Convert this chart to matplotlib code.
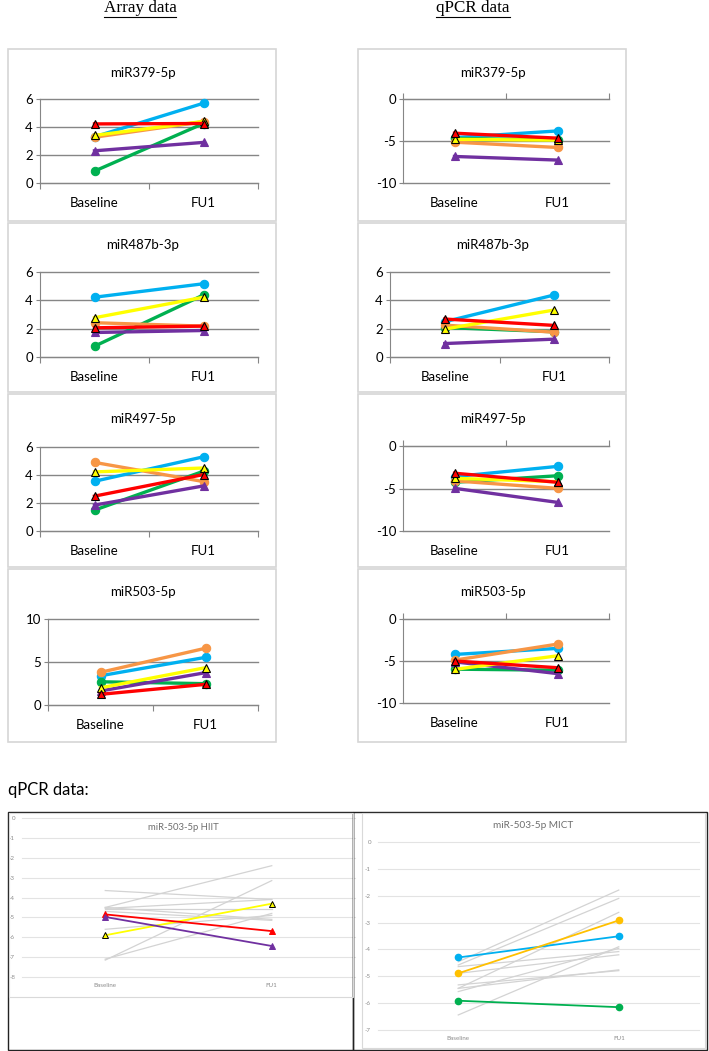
import numpy as np
import matplotlib
matplotlib.use("Agg")
import matplotlib.pyplot as plt
from matplotlib.patches import Rectangle
from matplotlib.lines import Line2D

plt.rcParams['axes.unicode_minus'] = False

W, H = 709, 1051

categories = ['Baseline', 'FU1']

# series order: blue, green, orange, purple, yellow, red
colors = ['#00B0F0', '#00B050', '#F79646', '#7030A0', '#FFFF00', '#FF0000']
markers = ['o', 'o', 'o', '^', '^', '^']
edges = ['#00B0F0', '#00B050', '#F79646', '#7030A0', 'black', 'black']

# Array data
arr379_base = [3.3, 0.85, 3.27, 2.3, 3.4, 4.22]
arr379_fu1 = [5.7, 4.25, 4.38, 2.9, 4.4, 4.25]
arr487_base = [4.22, 0.76, 2.42, 1.73, 2.77, 2.06]
arr487_fu1 = [5.17, 4.38, 2.18, 1.87, 4.22, 2.18]
arr497_base = [3.55, 1.49, 4.9, 1.85, 4.22, 2.49]
arr497_fu1 = [5.3, 4.27, 3.53, 3.22, 4.5, 4.03]
arr503_base = [3.4, 2.7, 3.8, 1.63, 2.0, 1.24]
arr503_fu1 = [5.54, 2.48, 6.6, 3.76, 4.34, 2.4]

# qPCR data
q379_base = [-4.6, -4.7, -5.14, -6.84, -4.8, -4.07]
q379_fu1 = [-3.8, -4.85, -5.77, -7.27, -4.9, -4.66]
q487_base = [2.49, 2.08, 2.25, 0.95, 1.97, 2.68]
q487_fu1 = [4.38, 1.78, 1.75, 1.26, 3.32, 2.23]
q497_base = [-3.6, -4.27, -4.1, -4.98, -3.8, -3.2]
q497_fu1 = [-2.4, -3.5, -4.98, -6.63, -4.2, -4.27]
q503_base = [-4.22, -5.97, -4.9, -5.1, -6.0, -5.0]
q503_fu1 = [-3.5, -6.1, -2.99, -6.5, -4.38, -5.8]

# miR-503-5p per group (grey = other subjects)
hiit_grey_base = [-3.65, -4.5, -7.15, -7.1, -4.55, -4.6, -4.5, -4.7, -5.6]
hiit_grey_fu1 = [-4.1, -2.4, -3.15, -4.8, -4.1, -4.6, -5.1, -5.15, -4.9]
hiit_colors = ['#FFFF00', '#FF0000', '#7030A0']
hiit_edges = ['black', '#FF0000', '#7030A0']
hiit_base = [-5.9, -4.85, -4.98]
hiit_fu1 = [-4.31, -5.69, -6.44]

mict_grey_base = [-4.46, -4.58, -5.45, -6.44, -5.57, -4.64, -4.89, -5.45, -5.32]
mict_grey_fu1 = [-1.79, -2.10, -2.62, -3.90, -3.96, -4.08, -4.2, -4.76, -4.79]
mict_colors = ['#00B0F0', '#FFC000', '#00B050']
mict_base = [-4.3, -4.89, -5.91]
mict_fu1 = [-3.51, -2.92, -6.15]

SANS = ['Lato', 'DejaVu Sans']
AXIS = '#868686'

fig = plt.figure(figsize=(W / 100, H / 100), dpi=100)


def box(x0, y0, x1, y1):
    return [x0 / W, 1 - y1 / H, (x1 - x0) / W, (y1 - y0) / H]


def rect(x0, y0, x1, y1, color, lw):
    fig.add_artist(Rectangle((x0 / W, 1 - y1 / H), (x1 - x0) / W, (y1 - y0) / H,
                             transform=fig.transFigure, fill=False,
                             edgecolor=color, lw=lw))


def ftext(x, y, s, **kw):
    return fig.text(x / W, 1 - y / H, s, ha='center', va='center', **kw)


xpos = np.arange(len(categories)) + 0.5


def excel_panel(pbox, title, tx, ty, lo, hi, step, base, fu1):
    ax = fig.add_axes(box(*pbox))
    ax.set_xlim(0, len(categories))
    ax.set_ylim(lo, hi)
    ax.set_yticks(np.arange(lo, hi + 0.01, step))
    ax.yaxis.grid(True, color=AXIS, lw=1, clip_on=False)
    ax.set_axisbelow(True)
    for s in ['top', 'right', 'bottom']:
        ax.spines[s].set_visible(False)
    ax.spines['left'].set_color(AXIS)
    ax.tick_params(axis='y', length=3, color=AXIS, labelsize=9.5, pad=2)
    ax.set_xticks(xpos, categories)
    ax.tick_params(axis='x', length=0, pad=10, labelsize=9.5)
    for lab in ax.get_xticklabels() + ax.get_yticklabels():
        lab.set_family(SANS)
    sec = ax.secondary_xaxis((0 - lo) / (hi - lo))
    sec.set_xticks(np.arange(len(categories) + 1), labels=[])
    sec.tick_params(length=4, color=AXIS)
    for sp in sec.spines.values():
        sp.set_color(AXIS)
    for i in range(len(colors)):
        ax.plot(xpos, [base[i], fu1[i]], color=colors[i], lw=2.4,
                marker=markers[i], ms=6, mec=edges[i], mew=0.8, clip_on=False)
    ftext(tx, ty, title, fontsize=9.5, family=SANS)


# headings
h1 = ftext(140, 8, 'Array data', fontsize=12.3, family='Liberation Serif')
h2 = ftext(473, 8, 'qPCR data', fontsize=12.3, family='Liberation Serif')

# panel frames
for y0, y1 in [(49, 221), (223, 392), (394, 567), (569, 742)]:
    rect(8, y0, 276, y1, '#D6D6D6', 1.2)
    rect(358, y0, 626, y1, '#D6D6D6', 1.2)

excel_panel((40, 99, 258, 183), 'miR379-5p', 143, 73, 0, 6, 2, arr379_base, arr379_fu1)
excel_panel((40, 272, 258, 357), 'miR487b-3p', 143, 245, 0, 6, 2, arr487_base, arr487_fu1)
excel_panel((40, 447, 258, 531), 'miR497-5p', 143, 419, 0, 6, 2, arr497_base, arr497_fu1)
excel_panel((48, 619, 258, 705), 'miR503-5p', 143, 592, 0, 10, 5, arr503_base, arr503_fu1)

excel_panel((403, 99, 609, 183), 'miR379-5p', 493, 73, -10, 0, 5, q379_base, q379_fu1)
excel_panel((390, 272, 609, 357), 'miR487b-3p', 493, 245, 0, 6, 2, q487_base, q487_fu1)
excel_panel((403, 446, 609, 531), 'miR497-5p', 493, 419, -10, 0, 5, q497_base, q497_fu1)
excel_panel((403, 619, 609, 703), 'miR503-5p', 493, 592, -10, 0, 5, q503_base, q503_fu1)

# bottom section
fig.text(8 / W, 1 - 790 / H, 'qPCR data:', ha='left', va='center', fontsize=12, family=SANS)
rect(8, 812, 353, 1050, '#222222', 1.0)
rect(353, 812, 707, 1050, '#222222', 1.0)
rect(9, 813, 353, 997, '#D9D9D9', 0.8)
rect(362, 813, 705, 1048, '#D9D9D9', 0.8)


def modern_panel(pbox, lo, hi, title, tx, ty, tsize):
    ax = fig.add_axes(box(*pbox))
    ax.set_xlim(0, len(categories))
    ax.set_ylim(lo, hi)
    ax.set_yticks(np.arange(lo, hi + 0.01, 1))
    ax.yaxis.grid(True, color='#E3E3E3', lw=0.8, clip_on=False)
    ax.set_axisbelow(True)
    for sp in ax.spines.values():
        sp.set_visible(False)
    ax.set_xticks(xpos, categories)
    ax.tick_params(length=0, labelsize=4.5, labelcolor='#8C8C8C', pad=4)
    for lab in ax.get_xticklabels() + ax.get_yticklabels():
        lab.set_family(SANS)
    ftext(tx, ty, title, fontsize=tsize, color='#6E6E6E', family=SANS)
    return ax


ax_h = modern_panel((22, 818, 355, 977), -8, 0, 'miR-503-5p HIIT', 183, 828, 6.8)
ax_h.tick_params(axis='y', pad=5)
for b, f in zip(hiit_grey_base, hiit_grey_fu1):
    ax_h.plot(xpos, [b, f], color='#D3D3D3', lw=0.9)
for i in range(len(hiit_colors)):
    ax_h.plot(xpos, [hiit_base[i], hiit_fu1[i]], color=hiit_colors[i], lw=1.3,
              marker='^', ms=5, mec=hiit_edges[i], mew=0.7)

ax_m = modern_panel((378, 842, 699, 1030), -7, 0, 'miR-503-5p MICT', 533, 826, 7.2)
ax_m.tick_params(axis='y', pad=5)
for b, f in zip(mict_grey_base, mict_grey_fu1):
    ax_m.plot(xpos, [b, f], color='#D3D3D3', lw=0.9)
for i in range(len(mict_colors)):
    ax_m.plot(xpos, [mict_base[i], mict_fu1[i]], color=mict_colors[i], lw=1.3,
              marker='o', ms=4.5, mec=mict_colors[i])

# underline the headings
fig.canvas.draw()
for t in (h1, h2):
    bb = t.get_window_extent()
    yy = bb.y0 - 1
    fig.add_artist(Line2D([bb.x0 / W, bb.x1 / W], [yy / H, yy / H],
                          transform=fig.transFigure, color='black', lw=0.8))

fig.savefig('out.png', dpi=100)
